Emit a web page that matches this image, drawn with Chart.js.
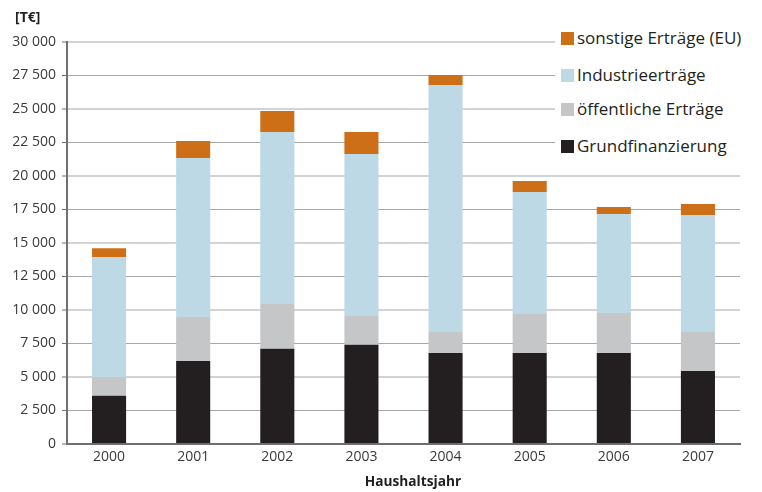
<!DOCTYPE html>
<html>
<head>
<meta charset="utf-8">
<script src="https://cdn.jsdelivr.net/npm/chart.js@4/dist/chart.umd.min.js"></script>
<style>
  body { margin: 0; background: #fff; }
  #wrap { position: relative; width: 762px; height: 492px; }
  #legend {
    position: absolute; left: 555px; top: 20px; width: 207px; height: 145px;
    background: #fff; font-family: "Open Sans", sans-serif; font-size: 17px; color: #231f20;
  }
  #legend div { position: absolute; left: 6px; height: 20px; line-height: 20px; white-space: nowrap; }
  #legend span { display: inline-block; width: 13px; height: 13px; margin-right: 3px; vertical-align: -1px; }
</style>
</head>
<body>
<div id="wrap">
  <canvas id="barchart" width="762" height="492"></canvas>
  <div id="legend"></div>
</div>
<script>
// Haushaltsjahre und Ertragsarten in T€
var jahre = ["2000", "2001", "2002", "2003", "2004", "2005", "2006", "2007"];
var grundfinanzierung = [3600, 6200, 7100, 7400, 6800, 6800, 6800, 5450];
var oeffentlich       = [1400, 3280, 3350, 2150, 1560, 2900, 2980, 2910];
var industrie         = [8950, 11860, 12830, 12100, 18430, 9100, 7390, 8730];
var sonstigeEU        = [650, 1270, 1570, 1640, 750, 820, 520, 820];

var farben = {
  grund: '#231f20',
  oeff: '#c5c6c8',
  ind: '#bdd9e6',
  eu: '#cd6f17'
};

var datasets = [
  { label: 'Grundfinanzierung', data: grundfinanzierung, backgroundColor: farben.grund },
  { label: 'öffentliche Erträge', data: oeffentlich, backgroundColor: farben.oeff },
  { label: 'Industrieerträge', data: industrie, backgroundColor: farben.ind },
  { label: 'sonstige Erträge (EU)', data: sonstigeEU, backgroundColor: farben.eu }
];

function tausender(v) {
  return String(v).replace(/\B(?=(\d{3})+(?!\d))/g, ' ');
}

// Einheit oben links, Achsentitel unten
var beschriftung = {
  id: 'beschriftung',
  afterDraw: function (chart) {
    var c = chart.ctx;
    c.save();
    c.fillStyle = '#231f20';
    c.textBaseline = 'middle';
    c.font = 'bold 14px "Open Sans", sans-serif';
    c.fillText('[T€]', 15, 18);
    c.font = 'bold 13.7px "Open Sans", sans-serif';
    c.textAlign = 'center';
    c.fillText('Haushaltsjahr', 413, 482);
    c.restore();
  }
};

var ctx = document.getElementById("barchart");
var barchart = new Chart(ctx, {
  type: 'bar',
  data: { labels: jahre, datasets: datasets },
  plugins: [beschriftung],
  options: {
    responsive: false,
    animation: false,
    layout: { padding: { top: 42, right: 22, left: 0, bottom: 0 } },
    datasets: { bar: { barPercentage: 0.405, categoryPercentage: 1 } },
    plugins: { legend: { display: false }, tooltip: { enabled: false } },
    scales: {
      x: {
        stacked: true,
        grid: { display: false, drawTicks: false },
        border: { display: true, color: '#6f6f6f', width: 2 },
        ticks: { color: '#3a3a3a', padding: 5, font: { family: '"Open Sans", sans-serif', size: 14 } },
        afterFit: function (s) { s.height = 48; }
      },
      y: {
        stacked: true,
        min: 0, max: 30000,
        ticks: {
          stepSize: 2500, color: '#3a3a3a', padding: 6,
          font: { family: '"Open Sans", sans-serif', size: 14 },
          callback: function (v) { return tausender(v); }
        },
        grid: {
          color: function (c) { return c.tick && c.tick.value % 5000 === 0 ? '#d3d3d3' : '#a8a8a8'; },
          lineWidth: function (c) { return c.tick && c.tick.value % 5000 === 0 ? 2 : 1; },
          tickColor: '#6f6f6f', tickLength: 5, tickWidth: 1
        },
        border: { display: true, color: '#6f6f6f', width: 2 },
        afterFit: function (s) { s.width = 67; }
      }
    }
  }
});

// Legende in umgekehrter Reihenfolge (oben: EU)
var legend = document.getElementById('legend');
var tops = [8, 45, 79, 116];
datasets.slice().reverse().forEach(function (ds, i) {
  var row = document.createElement('div');
  row.style.top = tops[i] + 'px';
  row.innerHTML = '<span style="background:' + ds.backgroundColor + '"></span>' + ds.label;
  legend.appendChild(row);
});
</script>
</body>
</html>
